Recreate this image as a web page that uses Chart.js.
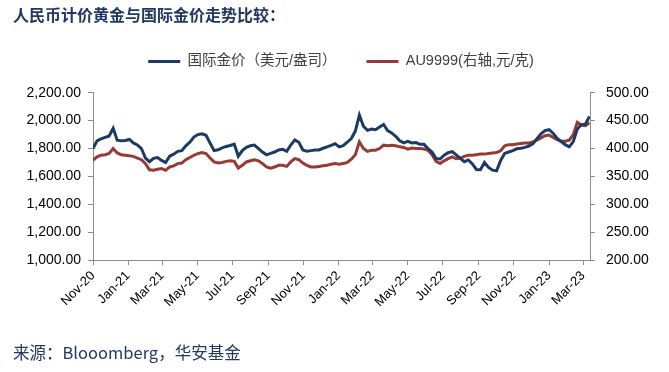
<!DOCTYPE html>
<html>
<head>
<meta charset="utf-8">
<style>
  html, body { margin: 0; padding: 0; background: #fff; }
  #wrap { width: 669px; height: 372px; }
</style>
<script src="https://cdn.jsdelivr.net/npm/chart.js"></script>
</head>
<body>
<div id="wrap"><canvas id="goldChart"></canvas></div>
<script>
// weekly samples starting from the first axis date
const axisStart = "2020-11-30";
const axisEnd = "2023-04-11";
const firstWeek = "2020-11-30";

const tickDates = ["2020-11-30", "2021-01-30", "2021-03-30", "2021-05-30", "2021-07-30",
  "2021-09-30", "2021-11-30", "2022-01-30", "2022-03-30", "2022-05-30", "2022-07-30",
  "2022-09-30", "2022-11-30", "2023-01-30", "2023-03-30"];
const tickLabels = ["Nov-20", "Jan-21", "Mar-21", "May-21", "Jul-21", "Sep-21", "Nov-21",
  "Jan-22", "Mar-22", "May-22", "Jul-22", "Sep-22", "Nov-22", "Jan-23", "Mar-23"];

// 国际金价 (USD/oz), left axis
const goldUsd = [
  1800, 1855, 1870, 1880, 1890, 1945, 1860, 1855, 1858, 1865, 1840, 1826, 1800, 1732, 1706, 1730,
  1735, 1715, 1700, 1745, 1760, 1780, 1785, 1820, 1845, 1882, 1900, 1906, 1895, 1840, 1785, 1791,
  1805, 1815, 1822, 1832, 1745, 1785, 1808, 1820, 1825, 1800, 1775, 1755, 1765, 1775, 1790, 1795,
  1780, 1825, 1862, 1845, 1790, 1780, 1785, 1790, 1790, 1802, 1812, 1822, 1835, 1812, 1820, 1845,
  1872, 1925, 2040, 1960, 1930, 1940, 1935, 1955, 1972, 1928, 1912, 1888, 1855, 1840, 1852, 1840,
  1843, 1830, 1830, 1800, 1775, 1728, 1725, 1752, 1770, 1778, 1755, 1730, 1706, 1718, 1690, 1650,
  1648, 1700, 1665, 1645, 1640, 1715, 1765, 1775, 1785, 1798, 1802, 1808, 1818, 1835, 1870, 1905,
  1928, 1935, 1910, 1872, 1850, 1828, 1812, 1850, 1940, 1970, 1975, 2030
];

// AU9999 (CNY/g), right axis
const au9999 = [
  379, 385, 388, 389, 391, 400, 392, 389, 388, 387, 386, 383, 380, 373, 362, 361,
  363, 364, 361, 367, 369, 373, 374, 380, 384, 388, 391, 393, 391, 383, 376, 374,
  375, 377, 378, 377, 365, 370, 376, 378, 380, 378, 373, 367, 365, 367, 370, 370,
  368, 376, 382, 380, 374, 370, 367, 367, 368, 369, 370, 372, 373, 372, 373, 375,
  381, 389, 412, 400, 395, 397, 397, 400, 406, 405, 406, 405, 403, 402, 399, 401,
  400, 400, 399, 397, 389, 377, 373, 378, 382, 385, 382, 383, 386, 388, 388, 389,
  390, 390, 391, 392, 393, 396, 405, 407, 407, 408, 409, 410, 410, 412, 415, 419,
  423, 424, 420, 416, 413, 413, 415, 425, 447, 442, 441, 446
];

const DAY = 86400000;
function dayOf(s) {
  return Math.round((Date.parse(s + "T00:00:00Z") - Date.parse(axisStart + "T00:00:00Z")) / DAY);
}
const week0 = dayOf(firstWeek);
const tickDays = tickDates.map(dayOf);

function toPoints(values) {
  return values.map((v, i) => ({ x: week0 + i * 7, y: v }));
}

const latin = "'Liberation Sans', Arial, 'Noto Sans CJK SC'";
const cjk = "'Liberation Sans', 'Noto Sans CJK SC'";
const axisColor = "#8c8c8c";

new Chart(document.getElementById("goldChart"), {
  type: "line",
  data: {
    datasets: [
      {
        label: "国际金价（美元/盎司）",
        data: toPoints(goldUsd),
        borderColor: "#1b3a64",
        backgroundColor: "#1b3a64",
        borderWidth: 3,
        pointRadius: 0,
        tension: 0,
        yAxisID: "y",
      },
      {
        label: "AU9999(右轴,元/克)",
        data: toPoints(au9999),
        borderColor: "#973a36",
        backgroundColor: "#973a36",
        borderWidth: 3,
        pointRadius: 0,
        tension: 0,
        yAxisID: "y1",
      },
    ],
  },
  options: {
    responsive: true,
    maintainAspectRatio: false,
    animation: false,
    events: [],
    layout: { padding: { left: 13, right: 0, top: 0, bottom: 0 } },
    plugins: {
      tooltip: { enabled: false },
      title: {
        display: true,
        text: "人民币计价黄金与国际金价走势比较：",
        align: "start",
        color: "#1f3864",
        font: { family: "'Noto Sans CJK SC'", size: 16, weight: "bold" },
        padding: { top: 5, bottom: 0 },
      },
      legend: {
        display: true,
        position: "top",
        labels: {
          usePointStyle: true,
          pointStyle: "line",
          pointStyleWidth: 32,
          padding: 30,
          color: "#404040",
          font: { family: cjk, size: 14.5 },
        },
      },
      subtitle: {
        display: true,
        position: "bottom",
        align: "start",
        text: "来源：Blooomberg，华安基金",
        color: "#1f3864",
        font: { family: "'Noto Sans CJK SC'", size: 16.5 },
        padding: { top: 0, bottom: 9 },
      },
    },
    scales: {
      x: {
        type: "linear",
        position: "bottom",
        min: 0,
        max: dayOf(axisEnd),
        afterBuildTicks: (scale) => {
          scale.ticks = tickDays.map((d) => ({ value: d }));
        },
        afterFit: (scale) => { scale.height = 83; },
        grid: { drawOnChartArea: false, drawTicks: true, tickLength: 5, color: axisColor },
        border: { display: true, color: axisColor, width: 1 },
        ticks: {
          autoSkip: false,
          minRotation: 45,
          maxRotation: 45,
          padding: 3,
          color: "#000",
          font: { family: latin, size: 13 },
          callback: (v, i) => tickLabels[i],
        },
      },
      pad: {
        type: "linear",
        axis: "x",
        position: "top",
        display: true,
        grid: { display: false },
        border: { display: false },
        ticks: { display: false },
        afterFit: (scale) => { scale.height = 14; },
      },
      y: {
        position: "left",
        min: 1000,
        max: 2200,
        afterFit: (scale) => { scale.width = 80; },
        grid: { drawOnChartArea: false, drawTicks: true, tickLength: 5, color: axisColor },
        border: { display: true, color: axisColor, width: 1 },
        ticks: {
          stepSize: 200,
          padding: 7,
          color: "#000",
          font: { family: latin, size: 14 },
          callback: (v) => v.toLocaleString("en-US", { minimumFractionDigits: 2, maximumFractionDigits: 2 }),
        },
      },
      y1: {
        position: "right",
        min: 200,
        max: 500,
        afterFit: (scale) => { scale.width = 79; },
        grid: { drawOnChartArea: false, drawTicks: true, tickLength: 5, color: axisColor },
        border: { display: true, color: axisColor, width: 1 },
        ticks: {
          stepSize: 50,
          padding: 11,
          color: "#000",
          font: { family: latin, size: 14 },
          callback: (v) => v.toFixed(2),
        },
      },
    },
  },
});
</script>
</body>
</html>
